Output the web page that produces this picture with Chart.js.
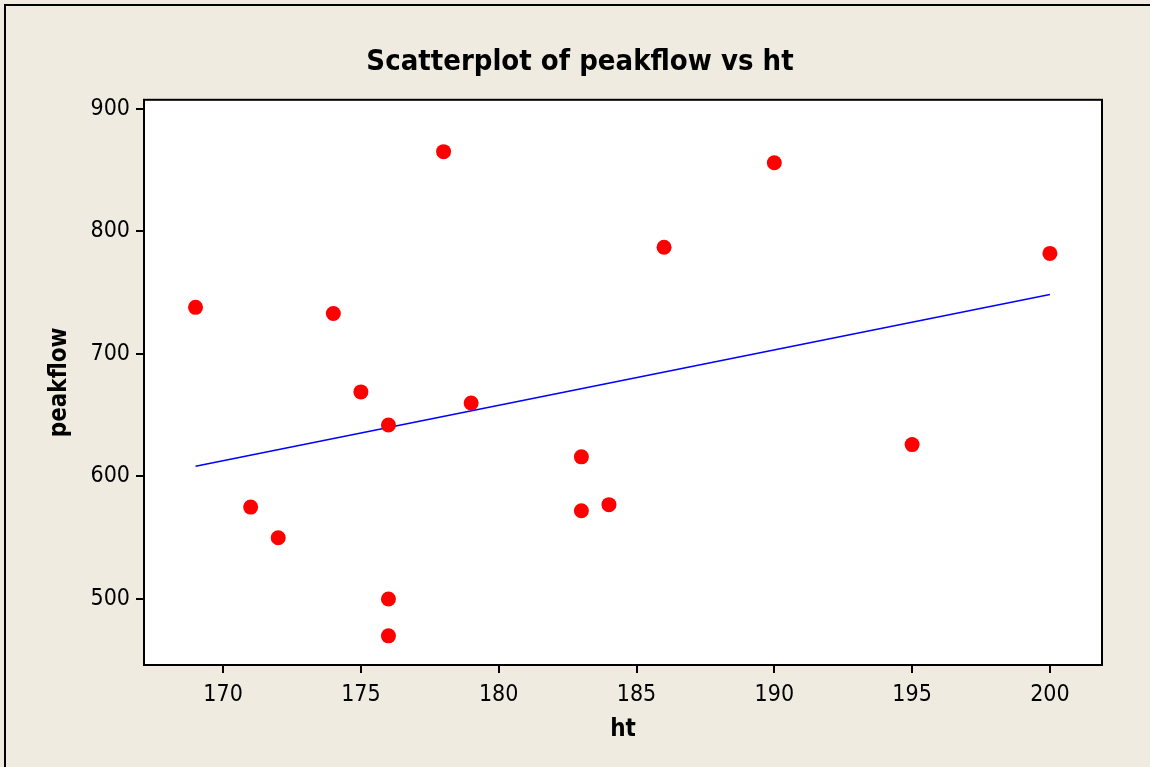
<!DOCTYPE html>
<html>
<head>
<meta charset="utf-8">
<script src="https://cdn.jsdelivr.net/npm/chart.js@4"></script>
<style>
  html, body { margin: 0; padding: 0; background: #ffffff; }
  #wrap { position: relative; width: 1150px; height: 767px; }
</style>
</head>
<body>
<div id="wrap"><canvas id="scatter" width="1150" height="767"></canvas></div>
<script>
// data
var htValues       = [169, 171, 172, 174, 175, 176, 176, 176, 178, 179, 183, 183, 184, 186, 190, 195, 200];
var peakflowValues = [738, 575, 550, 733, 669, 642, 500, 470, 865, 660, 616, 572, 577, 787, 856, 626, 782];
// fitted line, end points as drawn
var fitHt       = [169, 200];
var fitPeakflow = [608.4, 748.5];
// axis ranges and tick step
var xRange = [167.13, 201.89];
var yRange = [446.2, 907.3];
var xStep = 5;
var yStep = 100;

var pts = htValues.map(function(v, i) { return { x: v, y: peakflowValues[i] }; });
var fit = fitHt.map(function(v, i) { return { x: v, y: fitPeakflow[i] }; });

var frame = {
  id: 'frame',
  beforeDraw: function(chart) {
    var c = chart.ctx, a = chart.chartArea;
    c.save();
    c.fillStyle = '#efebe1';
    c.fillRect(0, 0, chart.width, chart.height);
    c.strokeStyle = '#000';
    c.lineWidth = 2;
    c.beginPath();
    c.moveTo(5, chart.height);
    c.lineTo(5, 5);
    c.lineTo(chart.width, 5);
    c.stroke();
    c.fillStyle = '#ffffff';
    c.fillRect(a.left, a.top, a.right - a.left, a.bottom - a.top);
    c.restore();
  },
  afterDraw: function(chart) {
    var c = chart.ctx, a = chart.chartArea;
    c.save();
    c.strokeStyle = '#000';
    c.lineWidth = 2;
    c.strokeRect(a.left, a.top, a.right - a.left, a.bottom - a.top);
    c.restore();
  }
};

var fontFam = '"DejaVu Sans Condensed", "DejaVu Sans", sans-serif';

(function() {
  var ctx = document.getElementById('scatter').getContext('2d');
  new Chart(ctx, {
    type: 'scatter',
    data: {
      datasets: [{
        label: 'peakflow',
        data: pts,
        backgroundColor: '#ff0000',
        borderWidth: 0,
        pointRadius: 7.5,
        order: 0
      }, {
        type: 'line',
        label: 'fit',
        data: fit,
        borderColor: '#0000ff',
        borderWidth: 1.6,
        pointRadius: 0,
        fill: false,
        order: 1
      }]
    },
    options: {
      responsive: false,
      animation: false,
      layout: { padding: { left: 10, right: 0, top: 0, bottom: 0 } },
      plugins: {
        legend: { display: false },
        tooltip: { enabled: false },
        title: {
          display: true,
          text: 'Scatterplot of peakflow vs ht',
          color: '#000',
          font: { family: fontFam, size: 29, weight: 'bold', lineHeight: 1.2 },
          padding: { top: 45, bottom: 20 }
        }
      },
      scales: {
        x: {
          type: 'linear',
          min: xRange[0],
          max: xRange[1],
          afterFit: function(s) { s.height = 102; },
          border: { display: false },
          grid: { drawOnChartArea: false, drawTicks: true, tickLength: 8, color: '#000', lineWidth: 2 },
          ticks: { stepSize: xStep, includeBounds: false, color: '#000', padding: 8,
                   font: { family: fontFam, size: 23 } },
          title: { display: true, text: 'ht', color: '#000', padding: { top: 0, bottom: 23 },
                   font: { family: fontFam, size: 24, weight: 'bold' } }
        },
        y: {
          type: 'linear',
          min: yRange[0],
          max: yRange[1],
          afterFit: function(s) { s.width = 134; },
          border: { display: false },
          grid: { drawOnChartArea: false, drawTicks: true, tickLength: 8, color: '#000', lineWidth: 2 },
          ticks: { stepSize: yStep, includeBounds: false, color: '#000', padding: 6,
                   font: { family: fontFam, size: 23 } },
          title: { display: true, text: 'peakflow', color: '#000', padding: { top: 35, bottom: 0 },
                   font: { family: fontFam, size: 24, weight: 'bold' } }
        },
        // empty right-hand axis that only reserves the margin right of the plot
        yRight: {
          type: 'linear',
          position: 'right',
          display: true,
          afterFit: function(s) { s.width = 48; },
          border: { display: false },
          grid: { display: false },
          ticks: { display: false }
        }
      }
    },
    plugins: [frame]
  });
})();
</script>
</body>
</html>
